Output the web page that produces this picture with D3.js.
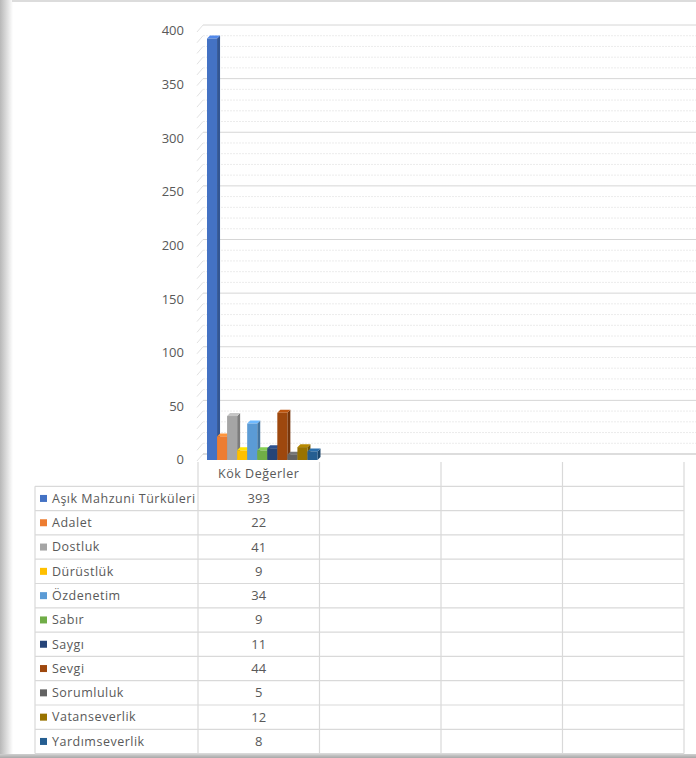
<!DOCTYPE html>
<html><head><meta charset="utf-8">
<script src="https://cdn.jsdelivr.net/npm/d3@7"></script>
<style>html,body{margin:0;padding:0;background:#fff;}svg{display:block;}</style>
</head><body>
<script>
const categories = ["Kök Değerler", "", "", ""];
const seriesNames = ["Aşık Mahzuni Türküleri","Adalet","Dostluk","Dürüstlük","Özdenetim","Sabır","Saygı","Sevgi","Sorumluluk","Vatanseverlik","Yardımseverlik"];
const seriesValues = [393, 22, 41, 9, 34, 9, 11, 44, 5, 12, 8];
const seriesColors = ["#4472C4","#ED7D31","#A5A5A5","#FFC000","#5B9BD5","#70AD47","#264478","#9E480E","#636363","#997300","#255E91"];
const yTicks = [0,50,100,150,200,250,300,350,400];

const W = 696, H = 758;
const svg = d3.select("body").append("svg").attr("width", W).attr("height", H);
const defs = svg.append("defs");
const lg = defs.append("linearGradient").attr("id","lsh").attr("x1",0).attr("x2",1).attr("y1",0).attr("y2",0);
lg.append("stop").attr("offset",0).attr("stop-color","#b8b8b8");
lg.append("stop").attr("offset",1).attr("stop-color","#ffffff");
const bg = defs.append("linearGradient").attr("id","bsh").attr("x1",0).attr("x2",0).attr("y1",0).attr("y2",1);
bg.append("stop").attr("offset",0).attr("stop-color","#d0d0d0");
bg.append("stop").attr("offset",1).attr("stop-color","#a8a8a8");

// page edges
svg.append("rect").attr("x",0).attr("y",0).attr("width",13).attr("height",H).attr("fill","url(#lsh)");
svg.append("rect").attr("x",12).attr("y",0).attr("width",W-12).attr("height",2).attr("fill","#dcdcdc");
svg.append("rect").attr("x",0).attr("y",754).attr("width",W).attr("height",4).attr("fill","url(#bsh)");

const font = "'Open Sans', 'Noto Sans', sans-serif";
const textCol = "#595959";
const gridCol = "#d9d9d9";

// scales
const y = d3.scaleLinear().domain([0,400]).range([460,31]);
const x = d3.scaleBand().domain(d3.range(categories.length)).range([198,684]).padding(0);
const xs = d3.scaleBand().domain(d3.range(seriesNames.length)).range([9, x.bandwidth()-2]).padding(0);
const dx = 5, dy = -6;   // back-wall offset
const bx = 3, by = -3;   // bar depth

// gridlines (minor every 10, major every 50)
const minor = d3.range(0, 401, 10);
const g = svg.append("g");
minor.forEach(v => {
  const major = v % 50 === 0;
  g.append("line").attr("x1",198+dx).attr("x2",W).attr("y1",y(v)+dy).attr("y2",y(v)+dy)
    .attr("stroke", major ? "#d6d6d6" : "#ececec").attr("stroke-width",1)
    .attr("stroke-dasharray", major ? null : "2,1");
  g.append("line").attr("x1",197).attr("x2",198+dx).attr("y1",y(v)+1).attr("y2",y(v)+dy)
    .attr("stroke", "#e2e2e2").attr("stroke-width",1);
});
// floor back line
g.append("line").attr("x1",198+dx).attr("x2",W).attr("y1",y(0)+dy).attr("y2",y(0)+dy).attr("stroke","#cfcfcf");

// y axis labels
svg.append("g").selectAll("text").data(yTicks).join("text")
  .attr("x",184).attr("y",d=>y(d)+1).attr("text-anchor","end").attr("dominant-baseline","middle")
  .attr("font-family",font).attr("font-size",13).attr("fill",textCol).text(d=>d);

// bars (3D boxes)
const bars = svg.append("g");
seriesValues.forEach((v,i) => {
  const x0 = x(0) + xs(i), w = xs.bandwidth();
  const yt = y(v), yb = y(0);
  const c = d3.color(seriesColors[i]);
  bars.append("path").attr("d",`M${x0+w},${yt} L${x0+w+bx},${yt+by} L${x0+w+bx},${yb+by} L${x0+w},${yb} Z`)
    .attr("fill", c.darker(0.8));
  bars.append("path").attr("d",`M${x0},${yt} L${x0+bx},${yt+by} L${x0+w+bx},${yt+by} L${x0+w},${yt} Z`)
    .attr("fill", c.brighter(0.5));
  bars.append("rect").attr("x",x0).attr("y",yt).attr("width",w).attr("height",yb-yt).attr("fill",c);
});

// data table
const rowTop = 462, headerH = 24.3, rowH = 24.3;
const tableLeft = 35;
const tg = svg.append("g");
const nRows = seriesNames.length;
const bottom = rowTop + headerH + nRows*rowH;
categories.forEach((c,k) => {
  tg.append("line").attr("x1",x(k)).attr("x2",x(k)).attr("y1",rowTop).attr("y2",bottom).attr("stroke",gridCol).attr("stroke-width",1.2);
});
tg.append("line").attr("x1",684).attr("x2",684).attr("y1",rowTop).attr("y2",bottom).attr("stroke",gridCol).attr("stroke-width",1.2);
tg.append("line").attr("x1",tableLeft).attr("x2",tableLeft).attr("y1",rowTop+headerH).attr("y2",bottom).attr("stroke",gridCol).attr("stroke-width",1.2);
for (let r=0; r<=nRows; r++) {
  const yy = rowTop + headerH + r*rowH;
  tg.append("line").attr("x1",tableLeft).attr("x2",684).attr("y1",yy).attr("y2",yy).attr("stroke",gridCol).attr("stroke-width",1.2);
}
categories.forEach((c,k) => {
  tg.append("text").attr("x",x(k)+x.bandwidth()/2).attr("y",rowTop+headerH/2+1)
    .attr("text-anchor","middle").attr("dominant-baseline","middle")
    .attr("font-family",font).attr("font-size",12.5).attr("letter-spacing",0.5).attr("fill",textCol).text(c);
});
seriesNames.forEach((n,i) => {
  const cy = rowTop + headerH + i*rowH + rowH/2;
  tg.append("rect").attr("x",40).attr("y",cy-3.5).attr("width",7).attr("height",7).attr("fill",seriesColors[i]);
  tg.append("text").attr("x",52).attr("y",cy+1).attr("dominant-baseline","middle")
    .attr("font-family",font).attr("font-size",12.5).attr("letter-spacing",0.5).attr("fill",textCol).text(n);
  tg.append("text").attr("x",x(0)+x.bandwidth()/2).attr("y",cy+1).attr("text-anchor","middle").attr("dominant-baseline","middle")
    .attr("font-family",font).attr("font-size",13).attr("fill",textCol).text(seriesValues[i]);
});
</script>
</body></html>
